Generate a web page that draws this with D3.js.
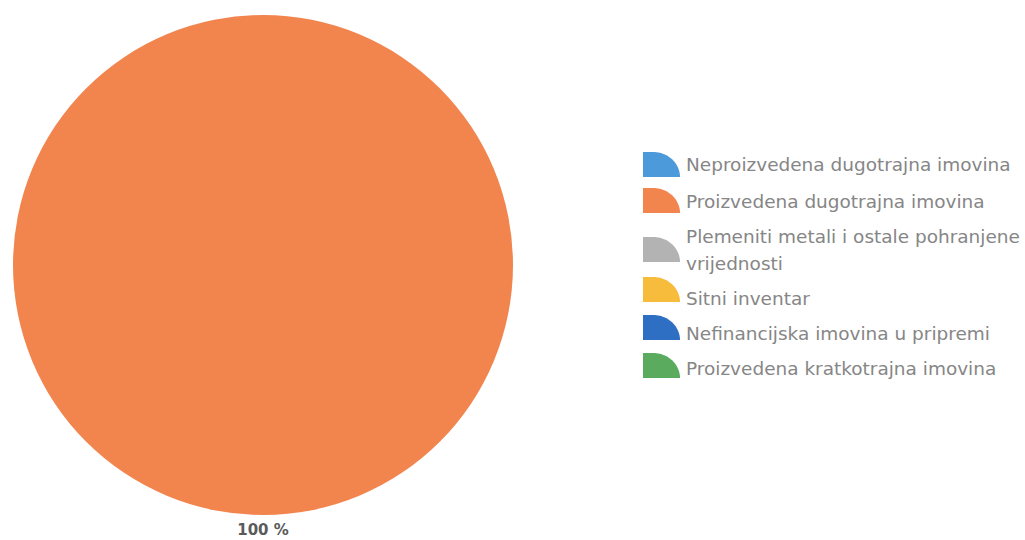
<!DOCTYPE html>
<html>
<head>
<meta charset="utf-8">
<script src="https://cdn.jsdelivr.net/npm/d3@7"></script>
<style>
  html, body { margin: 0; padding: 0; background: #fff; }
  svg { display: block; }
</style>
</head>
<body>
<svg id="chart" width="1025" height="540"></svg>
<script>
const categories = [
  "Neproizvedena dugotrajna imovina",
  "Proizvedena dugotrajna imovina",
  "Plemeniti metali i ostale pohranjene vrijednosti",
  "Sitni inventar",
  "Nefinancijska imovina u pripremi",
  "Proizvedena kratkotrajna imovina"
];
const legendLines = [
  ["Neproizvedena dugotrajna imovina"],
  ["Proizvedena dugotrajna imovina"],
  ["Plemeniti metali i ostale pohranjene", "vrijednosti"],
  ["Sitni inventar"],
  ["Nefinancijska imovina u pripremi"],
  ["Proizvedena kratkotrajna imovina"]
];
const values = [0, 100, 0, 0, 0, 0];
const colors = ["#4C9ADA", "#F2844E", "#B3B3B3", "#F8BC3C", "#2E6FC4", "#5AAB5E"];

const svg = d3.select("#chart");
const cx = 263, cy = 265, r = 250;

const color = d3.scaleOrdinal().domain(categories).range(colors);
const pie = d3.pie().sort(null).value(d => d.value);
const data = categories.map((c, i) => ({ cat: c, value: values[i] }));
const arcs = pie(data);
const arc = d3.arc().innerRadius(0).outerRadius(r);
const total = d3.sum(values);

const g = svg.append("g").attr("transform", `translate(${cx},${cy})`);
g.selectAll("path.slice")
  .data(arcs.filter(d => d.value > 0))
  .join("path")
  .attr("class", "slice")
  .attr("d", arc)
  .attr("fill", d => color(d.data.cat));

g.selectAll("text.lbl")
  .data(arcs.filter(d => d.value > 0))
  .join("text")
  .attr("class", "lbl")
  .attr("x", d => { const a = (d.startAngle + d.endAngle) / 2; return Math.sin(a) * (r + 15); })
  .attr("y", d => { const a = (d.startAngle + d.endAngle) / 2; return -Math.cos(a) * (r + 15); })
  .attr("text-anchor", "middle")
  .attr("dominant-baseline", "central")
  .attr("font-family", "DejaVu Sans, sans-serif")
  .attr("font-size", 15)
  .attr("font-weight", "bold")
  .attr("fill", "#5a5a5a")
  .text(d => Math.round(d.value / total * 100) + " %");

// Legend
const legendY = [164, 201, 236, 298, 333, 368];
const iconTop = [152, 188, 237, 277, 315, 353];
const lg = svg.append("g");
const iw = 37, ih = 25, ix = 643, tx = 686, flat = 10;
const texts = [];
categories.forEach((c, i) => {
  const y0 = iconTop[i];
  const p = d3.path();
  p.moveTo(ix, y0 + ih);
  p.lineTo(ix, y0);
  p.lineTo(ix + flat, y0);
  const rx = iw - flat;
  const n = 24;
  for (let k = 0; k <= n; k++) {
    const t = (k / n) * Math.PI / 2;
    p.lineTo(ix + flat + Math.sin(t) * rx, y0 + ih - Math.cos(t) * ih);
  }
  p.closePath();
  lg.append("path").attr("d", p.toString()).attr("fill", color(c));
  legendLines[i].forEach((ln, j) => {
    const t = lg.append("text")
      .attr("x", tx)
      .attr("y", legendY[i] + j * 27)
      .attr("dominant-baseline", "central")
      .attr("font-family", "DejaVu Sans, sans-serif")
      .attr("font-size", 16.5)
      .attr("fill", "#868686")
      .text(ln);
    texts.push(t);
  });
});
// fit the font size so the widest legend line spans ~334px as in the reference
const wMax = d3.max(texts, t => t.node().getComputedTextLength());
const fs = 16.5 * 334 / wMax;
texts.forEach(t => t.attr("font-size", fs));
</script>
</body>
</html>
